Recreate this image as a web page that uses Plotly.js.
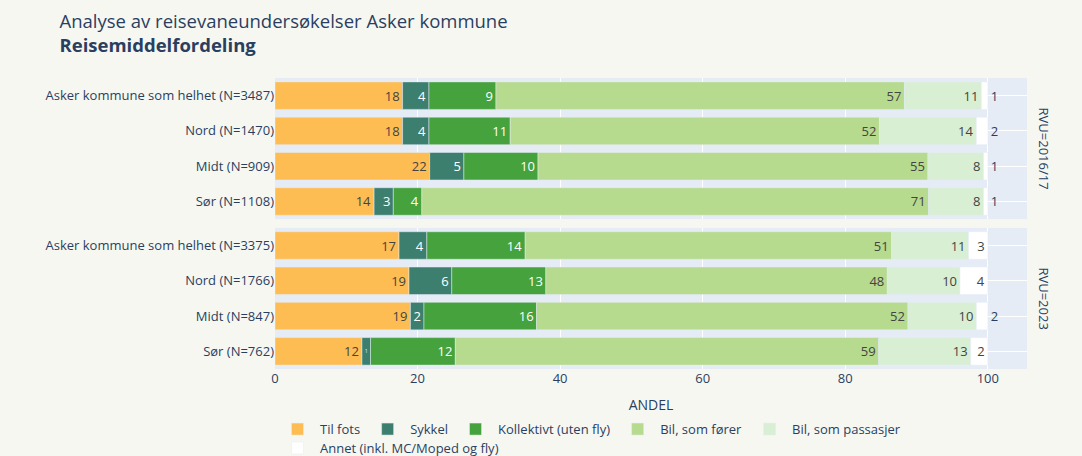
<!DOCTYPE html>
<html>
<head>
<meta charset="utf-8">
<script src="https://cdn.plot.ly/plotly-3.0.1.min.js"></script>
<style>html,body{margin:0;padding:0;background:#f7f7f2;}#chart{width:1082px;height:456px;}</style>
</head>
<body>
<div id="chart"></div>
<script>
const modes = ['Til fots', 'Sykkel', 'Kollektivt (uten fly)', 'Bil, som fører', 'Bil, som passasjer', 'Annet (inkl. MC/Moped og fly)'];
const colors = ['#FDBD52', '#3D7F6F', '#45A23D', '#B6DA8E', '#D8EFD4', '#FFFFFF'];
const facets = ['RVU=2016/17', 'RVU=2023'];
const cats2016 = ['Asker kommune som helhet (N=3487)', 'Nord (N=1470)', 'Midt (N=909)', 'Sør (N=1108)'];
const cats2023 = ['Asker kommune som helhet (N=3375)', 'Nord (N=1766)', 'Midt (N=847)', 'Sør (N=762)'];

// 2016/17 values (Asker, Nord, Midt, Sør)
const tilFots16 = [17.9, 17.9, 21.7, 13.9];
const sykkel16 = [3.7, 3.7, 4.8, 2.7];
const kollektivt16 = [9.4, 11.4, 10.4, 4.0];
const bilForer16 = [57.3, 51.8, 54.7, 71.1];
const bilPass16 = [10.8, 13.6, 7.8, 7.7];
const annet16 = [0.9, 1.6, 0.6, 0.6];

// 2023 values (Asker, Nord, Midt, Sør)
const tilFots23 = [17.4, 18.8, 19.0, 12.2];
const sykkel23 = [3.9, 6.0, 1.9, 1.2];
const kollektivt23 = [13.8, 13.2, 15.8, 11.9];
const bilForer23 = [51.4, 47.9, 52.1, 59.4];
const bilPass23 = [10.8, 10.2, 9.6, 12.9];
const annet23 = [2.7, 3.9, 1.6, 2.4];

const vals16 = [tilFots16, sykkel16, kollektivt16, bilForer16, bilPass16, annet16];
const vals23 = [tilFots23, sykkel23, kollektivt23, bilForer23, bilPass23, annet23];

const font = '"Open Sans", verdana, arial, sans-serif';
const traces = [];
modes.forEach((m, i) => {
  const leg = (i === modes.length - 1) ? 'legend2' : 'legend';
  traces.push({
    type: 'bar', orientation: 'h', name: m, legendgroup: m, showlegend: true, legend: leg,
    x: vals16[i], y: cats2016, xaxis: 'x2', yaxis: 'y2',
    marker: {color: colors[i], line: {width: 0.5, color: '#E5ECF6'}},
    texttemplate: '%{x:.0f}', textposition: 'auto', textfont: {size: 13},
    hovertemplate: '%{y}: %{x}<extra>' + m + '</extra>'
  });
  traces.push({
    type: 'bar', orientation: 'h', name: m, legendgroup: m, showlegend: false, legend: leg,
    x: vals23[i], y: cats2023, xaxis: 'x', yaxis: 'y',
    marker: {color: colors[i], line: {width: 0.5, color: '#E5ECF6'}},
    texttemplate: '%{x:.0f}', textposition: 'auto', textfont: {size: 13},
    hovertemplate: '%{y}: %{x}<extra>' + m + '</extra>'
  });
});

const legendCommon = {orientation: 'h', x: 0, xanchor: 'left', yanchor: 'top', font: {size: 13},
                      bgcolor: 'rgba(0,0,0,0)', traceorder: 'normal', itemwidth: 35};

const layout = {
  width: 1082, height: 456,
  paper_bgcolor: '#f7f7f2', plot_bgcolor: '#E5ECF6',
  font: {family: font, size: 13, color: '#2a3f5f'},
  barmode: 'relative', bargap: 0.22,
  margin: {l: 275, r: 55, t: 78, b: 87, autoexpand: false},
  title: {
    text: 'Analyse av reisevaneundersøkelser Asker kommune<br><b>Reisemiddelfordeling</b>',
    font: {size: 18.5, color: '#2a3f5f'},
    xref: 'container', x: 0.055, xanchor: 'left',
    yref: 'container', y: 0.938, yanchor: 'top'
  },
  xaxis: {domain: [0, 1], range: [0, 105.5], anchor: 'y', gridcolor: '#ffffff', zeroline: false,
          tickvals: [0, 20, 40, 60, 80, 100], title: {text: 'ANDEL', font: {size: 14}, standoff: 14}, ticks: ''},
  xaxis2: {domain: [0, 1], matches: 'x', anchor: 'y2', gridcolor: '#ffffff', zeroline: false,
           showticklabels: false, tickvals: [0, 20, 40, 60, 80, 100]},
  yaxis: {domain: [0, 0.485], anchor: 'x', autorange: 'reversed', type: 'category', ticks: '', gridcolor: '#ffffff'},
  yaxis2: {domain: [0.515, 1], anchor: 'x2', autorange: 'reversed', type: 'category', ticks: '', gridcolor: '#ffffff'},
  legend: Object.assign({}, legendCommon, {y: -0.155}),
  legend2: Object.assign({}, legendCommon, {y: -0.22}),
  annotations: [
    {text: facets[0], xref: 'paper', yref: 'paper', x: 1, xshift: 6, xanchor: 'left', y: 0.7575, yanchor: 'middle',
     textangle: 90, showarrow: false, font: {size: 13, color: '#2a3f5f'}},
    {text: facets[1], xref: 'paper', yref: 'paper', x: 1, xshift: 6, xanchor: 'left', y: 0.2425, yanchor: 'middle',
     textangle: 90, showarrow: false, font: {size: 13, color: '#2a3f5f'}}
  ]
};

Plotly.newPlot('chart', traces, layout, {displayModeBar: false, responsive: false});
</script>
</body>
</html>
